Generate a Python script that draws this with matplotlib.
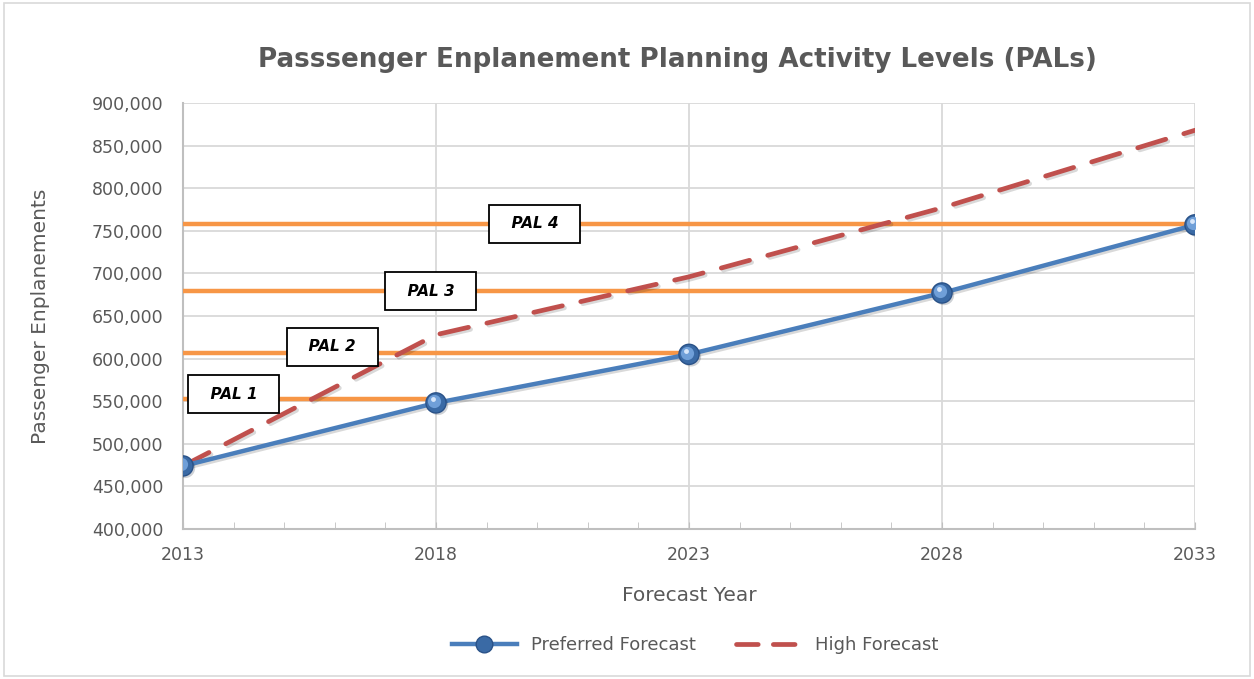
import matplotlib.pyplot as plt
import matplotlib.patheffects as pe
from matplotlib.patches import Rectangle
from matplotlib.transforms import offset_copy
from matplotlib.ticker import FuncFormatter, MultipleLocator

years = [2013, 2018, 2023, 2028, 2033]
preferred = [474000, 548000, 605000, 677000, 757000]
high = [474000, 628000, 696000, 777000, 868000]

# PAL thresholds: level, end year of the orange bar, label position
pal_names = ['PAL 1', 'PAL 2', 'PAL 3', 'PAL 4']
pal_levels = [552000, 606000, 679000, 758000]
pal_end = [2018, 2023, 2028, 2033]
pal_label_x = [2014.0, 2015.95, 2017.9, 2019.95]
pal_label_y = [558000, 614000, 679000, 758000]

grey = '#595959'
fig = plt.figure(figsize=(12.54, 6.79), dpi=100)
ax = fig.add_axes([183/1254, 1-529/679, 1012/1254, 426/679])

shadow = [pe.SimpleLineShadow(offset=(1.5, -1.5), alpha=0.15, shadow_color='black'), pe.Normal()]

for lvl, end in zip(pal_levels, pal_end):
    ax.plot([years[0], end], [lvl, lvl], color='#f79646', lw=3.2, solid_capstyle='butt', zorder=3)

ax.plot(years, high, color='#c0504d', lw=3.4, dashes=(6.2, 4.0), dash_capstyle='round',
        zorder=4, path_effects=shadow)
ax.plot(years, preferred, color='#4a7ebb', lw=3.2, zorder=5, path_effects=shadow)
# sphere-like markers
ax.plot(years, preferred, 'o', ms=14.5, color='#3a6aa5', mec='#2a5288', mew=1, zorder=6,
        path_effects=[pe.SimplePatchShadow(offset=(1.5, -1.5), alpha=0.2), pe.Normal()])
hl = offset_copy(ax.transData, fig=fig, x=-1.2, y=1.2, units='points')
ax.plot(years, preferred, 'o', ms=9.5, color='#6f9fd8', mew=0, zorder=7, transform=hl)
hl2 = offset_copy(ax.transData, fig=fig, x=-2.2, y=2.6, units='points')
ax.plot(years, preferred, 'o', ms=3.5, color='#d6e6fa', mew=0, zorder=8, transform=hl2)

for name, x, y in zip(pal_names, pal_label_x, pal_label_y):
    ax.text(x, y, '  ' + name + '  ', ha='center', va='center', fontsize=11,
            fontweight='bold', fontstyle='italic', color='black', zorder=9,
            bbox=dict(boxstyle='square,pad=0.75', fc='white', ec='black', lw=1.3))

ax.set_xlim(2013, 2033)
ax.set_ylim(400000, 900000)
ax.set_xticks(years)
ax.set_xticks(range(2013, 2034), minor=True)
ax.yaxis.set_major_locator(MultipleLocator(50000))
ax.yaxis.set_major_formatter(FuncFormatter(lambda v, p: f'{int(v):,}'))

ax.grid(True, which='major', color='#d9d9d9', lw=1.3)
ax.set_axisbelow(True)
for s in ['top', 'right']:
    ax.spines[s].set_visible(False)
for s in ['left', 'bottom']:
    ax.spines[s].set_color('#bfbfbf')
    ax.spines[s].set_linewidth(1.5)
ax.tick_params(axis='y', length=0, pad=14, labelsize=12.5, labelcolor=grey)
ax.tick_params(axis='x', which='both', direction='in', length=5, color='#bfbfbf',
               pad=12, labelsize=12.5, labelcolor=grey)

ax.set_xlabel('Forecast Year', fontsize=14.5, color=grey, labelpad=16)
ax.set_ylabel('Passenger Enplanements', fontsize=14.5, color=grey, labelpad=30)
fig.text(677/1254, 1-60/679, 'Passsenger Enplanement Planning Activity Levels (PALs)',
         ha='center', va='center', fontsize=18.8, fontweight='bold', color=grey)

h1, = ax.plot([], [], color='#4a7ebb', lw=3.2, marker='o', ms=12, mfc='#3a6aa5', mec='#2a5288')
h2, = ax.plot([], [], color='#c0504d', lw=3.4, dashes=(4.6, 3.2), dash_capstyle='round')
fig.legend([h1, h2], ['Preferred Forecast', 'High Forecast'], loc='center',
           bbox_to_anchor=(695/1254, 1-645/679), ncol=2, frameon=False,
           fontsize=13, labelcolor=grey, handlelength=3.6, columnspacing=2.2, numpoints=1)

fig.patches.append(Rectangle((0.003, 0.004), 0.994, 0.992, transform=fig.transFigure,
                             fill=False, ec='#d9d9d9', lw=1.2))

plt.savefig('out.png', dpi=100)
